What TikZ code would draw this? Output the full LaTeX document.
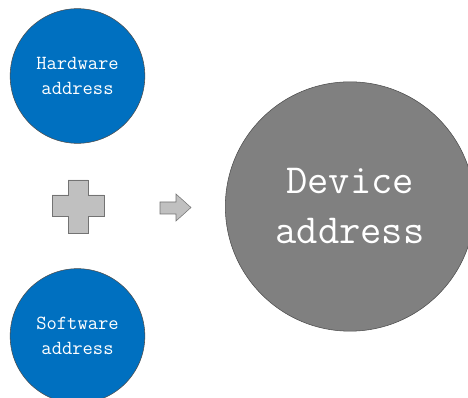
\documentclass[tikz,border=0pt]{standalone}
\usepackage{tikz}
\usetikzlibrary{positioning}

\definecolor{addrblue}{HTML}{0070C0}
\definecolor{devgray}{HTML}{808080}
\definecolor{signgray}{HTML}{C0C0C0}

\tikzset{
  smallcircle/.style={circle, draw=black!70, thin, fill=addrblue,
    minimum size=101pt, inner sep=0pt, text=white, align=center,
    font=\ttfamily\fontsize{15}{18.75}\selectfont},
  bigcircle/.style={circle, draw=black!70, thin, fill=devgray,
    minimum size=187pt, inner sep=0pt, text=white, align=center,
    font=\ttfamily\fontsize{31}{37.5}\selectfont},
  signshape/.style={draw=black!55, fill=signgray, thin, line join=miter}
}

\begin{document}
\begin{tikzpicture}[x=0.75pt, y=-0.75pt]

    \useasboundingbox (0,0) rectangle (468,398);

    \node[smallcircle] (hw) at (77.5,76) {Hardware\\address};

    \node[smallcircle] (sw) at (77.5,336) {Software\\address};

    \node[bigcircle] (dev) at (350,206.5) {Device\\address};

    % plus sign
    \draw[signshape] (68,180) -- (88,180) -- (88,195) -- (104,195)
      -- (104,216) -- (88,216) -- (88,233) -- (68,233) -- (68,216)
      -- (52,216) -- (52,195) -- (68,195) -- cycle;

    % arrow
    \draw[signshape] (160,202) -- (176,202) -- (176,194) -- (191,207.5)
      -- (176,221) -- (176,214) -- (160,214) -- cycle;

\end{tikzpicture}
\end{document}
